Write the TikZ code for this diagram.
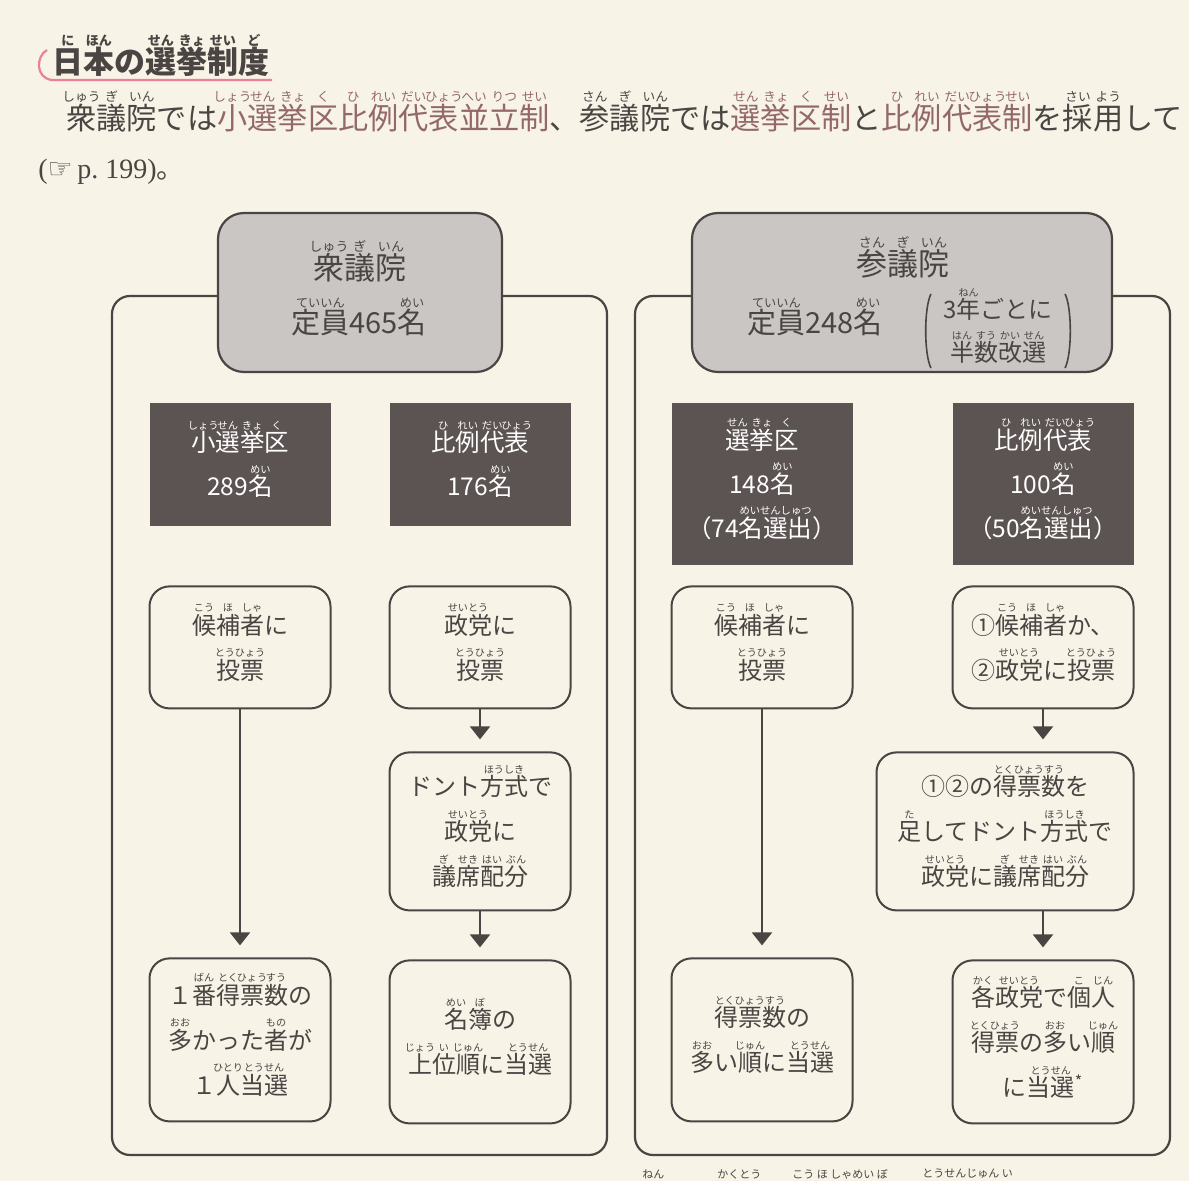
\documentclass[tikz,border=0pt]{standalone}
\usepackage{fontspec}
\usepackage{graphicx}
\setmainfont{Noto Sans CJK JP}
\newfontfamily\latinserif{Liberation Serif}
\newfontfamily\symbolfont{DejaVu Sans}
\usetikzlibrary{arrows.meta,positioning,calc}

\definecolor{paper}{RGB}{247,243,230}
\definecolor{ink}{RGB}{74,69,67}
\definecolor{housegray}{RGB}{201,198,195}
\definecolor{seatdark}{RGB}{92,84,82}
\definecolor{hl}{RGB}{148,104,104}
\definecolor{pinkline}{RGB}{236,128,148}

% furigana: reading centred above its base
\newcommand\rbscale{0.42}
\newcommand\rb[2]{\leavevmode\setbox0\hbox{#1}\rlap{\raisebox{0.92em}[0pt][0pt]{\makebox[\wd0][c]{\scalebox{\rbscale}{#2}}}}\box0\relax}

\newcommand\votefont{\fontsize{12pt}{22.5pt}\selectfont}
\newcommand\seatfont{\fontsize{12.25pt}{22pt}\selectfont}
\newcommand\housefont{\fontsize{15.5pt}{18pt}\selectfont}
\newcommand\quotafont{\fontsize{14.5pt}{18pt}\selectfont}

\begin{document}
\begin{tikzpicture}[
  x=0.5pt, y=-0.5pt,
  frame/.style={draw=ink, line width=1.1pt, rounded corners=9pt},
  house/.style={draw=ink, line width=1.1pt, fill=housegray, rounded corners=13pt, minimum height=79.5pt, inner sep=0pt},
  housetext/.style={text=ink, inner sep=0pt},
  paren/.style={draw=ink, line width=0.8pt},
  seat/.style={fill=seatdark, text=white, minimum width=90.5pt, inner sep=0pt, align=center, font=\seatfont},
  vote/.style={draw=ink, fill=paper, line width=1pt, rounded corners=10pt, minimum width=90.5pt, minimum height=61pt, inner sep=0pt, align=center, font=\votefont, text=ink},
  arr/.style={-{Triangle[width=10pt,length=6.5pt]}, draw=ink, line width=1pt, shorten >=6pt},
  rubyrow/.style={anchor=west, text=ink, inner sep=0pt, font=\fontsize{5.5pt}{6pt}\selectfont},
]
\fill[paper] (0,0) rectangle (1189,1181);
\useasboundingbox (0,0) rectangle (1189,1181);

% heading and lead text
\node[anchor=west, inner sep=0pt, text=ink, font=\fontsize{15.5pt}{18pt}\selectfont\bfseries] (title) at (52,62)
  {\rb{日}{に}\rb{本}{ほん}の\rb{選}{せん}\rb{挙}{きょ}\rb{制}{せい}\rb{度}{ど}};
\draw[pinkline, line width=1.1pt] (47,50) .. controls (36,56) and (35,78) .. (52,80) -- (272,80);
\node[anchor=west, inner sep=0pt, text=ink, font=\fontsize{15.1pt}{18pt}\selectfont] (lead) at (66,118)
  {\rb{衆}{しゅう}\rb{議}{ぎ}\rb{院}{いん}では{\color{hl}\rb{小}{しょう}\rb{選}{せん}\rb{挙}{きょ}\rb{区}{く}\rb{比}{ひ}\rb{例}{れい}\rb{代}{だい}\rb{表}{ひょう}\rb{並}{へい}\rb{立}{りつ}\rb{制}{せい}}、\rb{参}{さん}\rb{議}{ぎ}\rb{院}{いん}では{\color{hl}\rb{選}{せん}\rb{挙}{きょ}\rb{区}{く}\rb{制}{せい}}と{\color{hl}\rb{比}{ひ}\rb{例}{れい}\rb{代}{だい}\rb{表}{ひょう}\rb{制}{せい}}を\rb{採}{さい}\rb{用}{よう}して};
\node[anchor=west, inner sep=0pt, text=ink, font=\fontsize{14pt}{16pt}\selectfont] (pageref) at (38,172)
  {{\latinserif(}{\symbolfont ☞}{\latinserif\,p.\ 199)}。};

% the two houses
\draw[frame] (112,296) rectangle (607,1155);
\draw[frame] (635,296) rectangle (1170,1155);
\node[house, minimum width=142pt] (shuHouse) at (360,292.5) {};
\node[house, minimum width=210pt] (sanHouse) at (902,292.5) {};
\node[housetext, font=\housefont] (shuName) at (360,268) {\rb{衆}{しゅう}\rb{議}{ぎ}\rb{院}{いん}};
\node[housetext, font=\quotafont] (shuQuota) at (359,323) {\rb{定員}{ていいん}465\rb{名}{めい}};
\node[housetext, font=\housefont] (sanName) at (903,264) {\rb{参}{さん}\rb{議}{ぎ}\rb{院}{いん}};
\node[housetext, font=\quotafont] (sanQuota) at (815,323) {\rb{定員}{ていいん}248\rb{名}{めい}};
\node[housetext, inner xsep=6pt, inner ysep=2pt, align=center, font=\fontsize{12pt}{21.5pt}\selectfont] (sanTerm) at (998,331)
  {3\rb{年}{ねん}ごとに\\\rb{半}{はん}\rb{数}{すう}\rb{改}{かい}\rb{選}{せん}};
\draw[paren] (sanTerm.north west) .. controls ($(sanTerm.north west)+(-7,14)$) and ($(sanTerm.south west)+(-7,-14)$) .. (sanTerm.south west);
\draw[paren] (sanTerm.north east) .. controls ($(sanTerm.north east)+(7,14)$) and ($(sanTerm.south east)+(7,-14)$) .. (sanTerm.south east);

% seats
\node[seat, minimum height=61.5pt] (shoSeat) at (240,464.5) {\rb{小}{しょう}\rb{選}{せん}\rb{挙}{きょ}\rb{区}{く}\\289\rb{名}{めい}};
\node[seat, minimum height=61.5pt] (shuPrSeat) at (480,464.5) {\rb{比}{ひ}\rb{例}{れい}\rb{代}{だい}\rb{表}{ひょう}\\176\rb{名}{めい}};
\node[seat, minimum height=81pt] (sanSeat) at (762,484) {\rb{選}{せん}\rb{挙}{きょ}\rb{区}{く}\\148\rb{名}{めい}\\（74\rb{名選出}{めいせんしゅつ}）};
\node[seat, minimum height=81pt] (sanPrSeat) at (1043,484) {\rb{比}{ひ}\rb{例}{れい}\rb{代}{だい}\rb{表}{ひょう}\\100\rb{名}{めい}\\（50\rb{名選出}{めいせんしゅつ}）};

% voting
\node[vote, below=29.5pt of shoSeat] (shoVote) {\rb{候}{こう}\rb{補}{ほ}\rb{者}{しゃ}に\\\rb{投票}{とうひょう}};
\node[vote, below=29.5pt of shuPrSeat] (shuPrVote) {\rb{政党}{せいとう}に\\\rb{投票}{とうひょう}};
\node[vote, below=10pt of sanSeat] (sanVote) {\rb{候}{こう}\rb{補}{ほ}\rb{者}{しゃ}に\\\rb{投票}{とうひょう}};
\node[vote, below=10pt of sanPrSeat] (sanPrVote) {①\rb{候}{こう}\rb{補}{ほ}\rb{者}{しゃ}か、\\②\rb{政党}{せいとう}に\rb{投票}{とうひょう}};

% d'Hondt allocation
\node[vote, minimum height=79pt, below=21pt of shuPrVote] (shuDont) {ドント\rb{方式}{ほうしき}で\\\rb{政党}{せいとう}に\\\rb{議}{ぎ}\rb{席}{せき}\rb{配}{はい}\rb{分}{ぶん}};
\node[vote, minimum height=79pt, minimum width=128.5pt, below=21pt of sanPrVote.south east, anchor=north east] (sanDont)
  {①②の\rb{得票数}{とくひょうすう}を\\\rb{足}{た}してドント\rb{方式}{ほうしき}で\\\rb{政党}{せいとう}に\rb{議}{ぎ}\rb{席}{せき}\rb{配}{はい}\rb{分}{ぶん}};
\coordinate (sumFoot) at (sanDont.south -| sanPrVote.south);

% winners
\node[vote, minimum height=81.5pt, below=124pt of shoVote] (shoWin) {１\rb{番}{ばん}\rb{得}{とく}\rb{票}{ひょう}\rb{数}{すう}の\\\rb{多}{おお}かった\rb{者}{もの}が\\１\rb{人}{ひとり}\rb{当選}{とうせん}};
\node[vote, minimum height=81.5pt, below=24pt of shuDont] (shuPrWin) {\rb{名}{めい}\rb{簿}{ぼ}の\\\rb{上}{じょう}\rb{位}{い}\rb{順}{じゅん}に\rb{当選}{とうせん}};
\node[vote, minimum height=81.5pt, below=124pt of sanVote] (sanWin) {\rb{得票数}{とくひょうすう}の\\\rb{多}{おお}い\rb{順}{じゅん}に\rb{当選}{とうせん}};
\node[vote, minimum height=81.5pt, below=24pt of sumFoot] (sanPrWin) {\rb{各}{かく}\rb{政党}{せいとう}で\rb{個}{こ}\rb{人}{じん}\\\rb{得票}{とくひょう}の\rb{多}{おお}い\rb{順}{じゅん}\\に\rb{当選}{とうせん}\textsuperscript{*}};

\draw[arr] (shoVote) -- (shoWin);
\draw[arr] (shuPrVote) -- (shuDont);
\draw[arr] (shuDont) -- (shuPrWin);
\draw[arr] (sanVote) -- (sanWin);
\draw[arr] (sanPrVote.south) -- (sanPrVote.south |- sanDont.north);
\draw[arr] (sumFoot) -- (sanPrWin);

% readings of the cut-off line below
\node[rubyrow] (cutA) at (642,1174) {ねん};
\node[rubyrow] (cutB) at (717,1174) {かくとう};
\node[rubyrow] (cutC) at (792,1174) {こう ほ しゃめい ぼ};
\node[rubyrow] (cutD) at (922,1174) {とうせんじゅん い};
\end{tikzpicture}
\end{document}
